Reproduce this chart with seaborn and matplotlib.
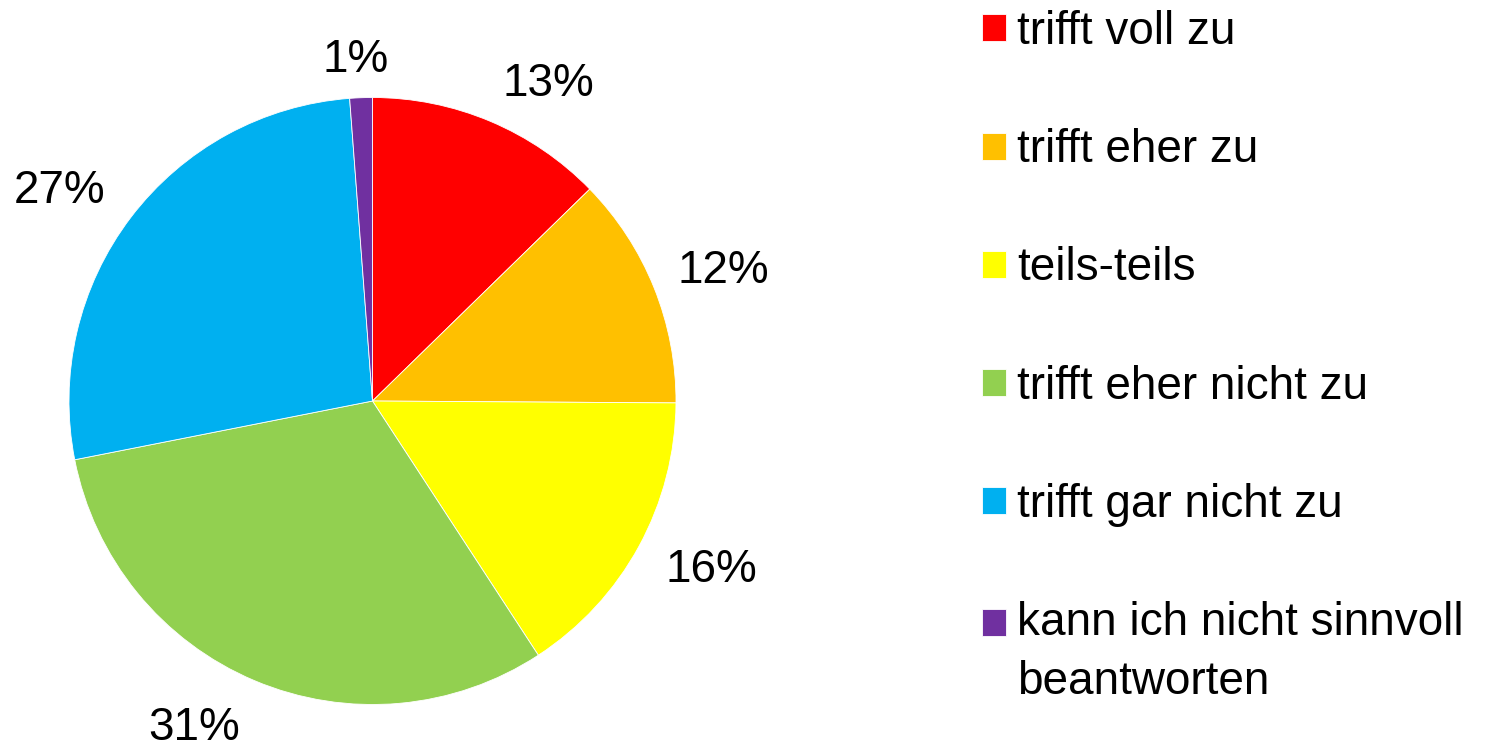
import numpy as np
import matplotlib
matplotlib.use("Agg")
import matplotlib.pyplot as plt
import matplotlib.patches as mpatches
from matplotlib.legend_handler import HandlerPatch
import seaborn as sns

# survey answers (share in percent)
categories = ["trifft voll zu", "trifft eher zu", "teils-teils",
              "trifft eher nicht zu", "trifft gar nicht zu",
              "kann ich nicht sinnvoll\nbeantworten"]
shares = [12.7, 12.4, 15.7, 31.1, 26.9, 1.2]
colors = ["#FF0000", "#FFC000", "#FFFF00", "#92D050", "#00B0F0", "#7030A0"]

# label placement around the pie (radius factor, clockwise turn in degrees)
label_radius = [1.21, 1.24, 1.24, 1.212, 1.25, 1.14]
label_turn = [5.8, 0.9, -2.8, 6.1, -2.8, -0.6]

FS = 33

sns.set_theme(style="white")
plt.rcParams["font.family"] = ["Liberation Sans", "DejaVu Sans"]

fig = plt.figure(figsize=(15.02, 7.46), dpi=100)
ax = fig.add_axes([-0.0046, -0.0461, 0.5052, 1.0171])

wedges, texts, autotexts = ax.pie(
    shares, colors=sns.color_palette(colors), startangle=90, counterclock=False,
    autopct="%.0f%%", pctdistance=1.22,
    wedgeprops=dict(linewidth=0.6, edgecolor="white"),
    textprops=dict(fontsize=FS, color="black"))
ax.set_aspect("equal")

for w, t, r, turn in zip(wedges, autotexts, label_radius, label_turn):
    ang = np.deg2rad((w.theta1 + w.theta2) / 2 - turn)
    t.set_position((r * np.cos(ang), r * np.sin(ang)))
    t.set_va("center_baseline")


def square_handle(shift):
    # legend square moved up to sit beside the first line of a wrapped label
    def make(legend, orig_handle, xdescent, ydescent, width, height, fontsize):
        return mpatches.Rectangle((-xdescent, -ydescent + shift * fontsize),
                                  width, height)
    return HandlerPatch(patch_func=make)


handler_map = {wedges[-1]: square_handle(0.66)}

leg = fig.legend(wedges, categories, loc="upper left",
                 bbox_to_anchor=(0.6538, 0.9866), frameon=False, fontsize=FS,
                 borderpad=0, borderaxespad=0, handlelength=0.53,
                 handleheight=0.53, handletextpad=0.24, labelspacing=1.62,
                 handler_map=handler_map)
for t in leg.get_texts():
    t.set_color("black")
leg.get_texts()[-1].set_linespacing(1.42)

fig.savefig("out.png", dpi=100)
